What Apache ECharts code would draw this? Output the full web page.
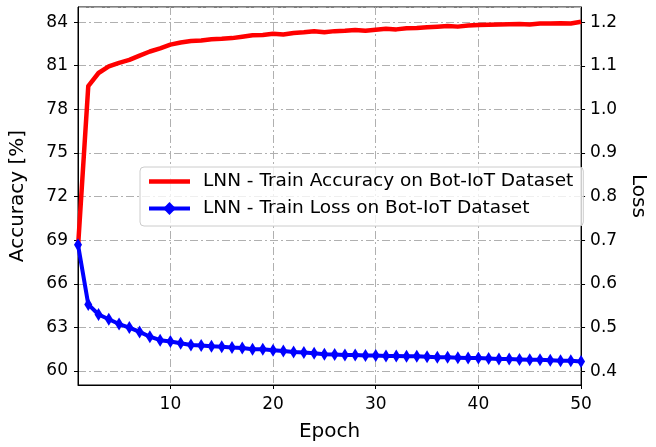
<!DOCTYPE html>
<html>
<head>
<meta charset="utf-8">
<script src="https://cdn.jsdelivr.net/npm/echarts@6/dist/echarts.min.js"></script>
<style>html,body{margin:0;padding:0;background:#fff;}#c{width:656px;height:447px;}</style>
</head>
<body>
<div id="c"></div>
<script>
const epochs = Array.from({length: 50}, (_, i) => i + 1);
const accuracy = [68.5, 79.6, 80.5, 80.95, 81.2, 81.4, 81.7, 81.98, 82.2, 82.45,
  82.6, 82.7, 82.74, 82.82, 82.85, 82.9, 83.0, 83.1, 83.12, 83.2,
  83.15, 83.25, 83.3, 83.37, 83.31, 83.38, 83.4, 83.46, 83.4, 83.47,
  83.55, 83.5, 83.58, 83.59, 83.64, 83.68, 83.73, 83.69, 83.76, 83.81,
  83.82, 83.84, 83.86, 83.87, 83.84, 83.9, 83.91, 83.93, 83.91, 84.03];
const loss = [0.690, 0.553, 0.530, 0.519, 0.508, 0.500, 0.490, 0.479, 0.471, 0.468,
  0.464, 0.460, 0.459, 0.457, 0.456, 0.454, 0.453, 0.450, 0.450, 0.448,
  0.446, 0.444, 0.443, 0.441, 0.439, 0.438, 0.437, 0.437, 0.436, 0.436,
  0.435, 0.435, 0.434, 0.434, 0.433, 0.432, 0.432, 0.431, 0.430, 0.430,
  0.429, 0.428, 0.428, 0.427, 0.426, 0.426, 0.425, 0.424, 0.424, 0.422];
const seriesNames = ['LNN - Train Accuracy on Bot-IoT Dataset', 'LNN - Train Loss on Bot-IoT Dataset'];

const font = 'DejaVu Sans';
const gridLine = {show: true, lineStyle: {color: '#b0b0b0', width: 1, type: [8, 3, 2, 3]}};
const chart = echarts.init(document.getElementById('c'), null, {renderer: 'canvas'});
chart.setOption({
  animation: false,
  backgroundColor: '#fff',
  textStyle: {fontFamily: font},
  grid: {left: 78, right: 66, top: 7, bottom: 61, show: true, borderColor: '#000', borderWidth: 1, backgroundColor: 'transparent'},
  legend: {
    orient: 'vertical', left: 140, top: 167,
    padding: [4, 10, 7, 7], itemGap: 6, itemWidth: 41, itemHeight: 16,
    backgroundColor: 'rgba(255,255,255,0.8)', borderColor: '#cccccc', borderWidth: 1, borderRadius: 4,
    textStyle: {fontFamily: font, fontSize: 18.5, color: '#000', lineHeight: 21, padding: [0, 0, 0, 8]},
    data: [
      {name: seriesNames[0], icon: 'path://M0,0L41,0L41,4.5L0,4.5Z', itemStyle: {color: '#ff0000'}},
      {name: seriesNames[1], lineStyle: {width: 4, color: '#0000ff'}, itemStyle: {color: '#0000ff'}}
    ]
  },
  xAxis: {
    type: 'value', min: 1, max: 50, splitNumber: 5,
    name: 'Epoch', nameLocation: 'middle', nameGap: 37,
    nameTextStyle: {fontFamily: font, fontSize: 20, color: '#000'},
    axisLine: {show: true, lineStyle: {color: '#000', width: 1}},
    axisTick: {show: true, length: 4, lineStyle: {color: '#000'}},
    axisLabel: {showMinLabel: false, fontFamily: font, fontSize: 17, color: '#000', margin: 11},
    splitLine: gridLine
  },
  yAxis: [{
    type: 'value', min: 59.04, max: 85.04, splitNumber: 8, position: 'left',
    name: 'Accuracy [%]', nameLocation: 'middle', nameGap: 50,
    nameTextStyle: {fontFamily: font, fontSize: 20, color: '#000'},
    axisLine: {show: true, lineStyle: {color: '#000', width: 1}},
    axisTick: {show: true, length: 4, lineStyle: {color: '#000'}},
    axisLabel: {showMinLabel: false, showMaxLabel: false, fontFamily: font, fontSize: 17, color: '#000', margin: 10,
      formatter: v => (Math.abs(v - Math.round(v)) < 1e-6 ? String(Math.round(v)) : '')},
    splitLine: gridLine
  }, {
    type: 'value', min: 0.3683, max: 1.2347, splitNumber: 8, position: 'right',
    name: 'Loss', nameLocation: 'middle', nameGap: 44, nameRotate: -90,
    nameTextStyle: {fontFamily: font, fontSize: 20, color: '#000'},
    axisLine: {show: true, lineStyle: {color: '#000', width: 1}},
    axisTick: {show: true, length: 4, lineStyle: {color: '#000'}},
    axisLabel: {showMinLabel: false, showMaxLabel: false, fontFamily: font, fontSize: 17, color: '#000', margin: 9,
      formatter: v => v.toFixed(1)},
    splitLine: {show: false}
  }],
  series: [{
    name: seriesNames[0], type: 'line', yAxisIndex: 0,
    data: epochs.map((e, i) => [e, accuracy[i]]),
    showSymbol: false, symbol: 'none',
    lineStyle: {color: '#ff0000', width: 4.5, join: 'round'},
    itemStyle: {color: '#ff0000'}
  }, {
    name: seriesNames[1], type: 'line', yAxisIndex: 1,
    data: epochs.map((e, i) => [e, loss[i]]),
    symbol: 'diamond', symbolSize: [8, 13], showSymbol: true,
    lineStyle: {color: '#0000ff', width: 4, join: 'round'},
    itemStyle: {color: '#0000ff', borderWidth: 0}
  }]
});
</script>
</body>
</html>
